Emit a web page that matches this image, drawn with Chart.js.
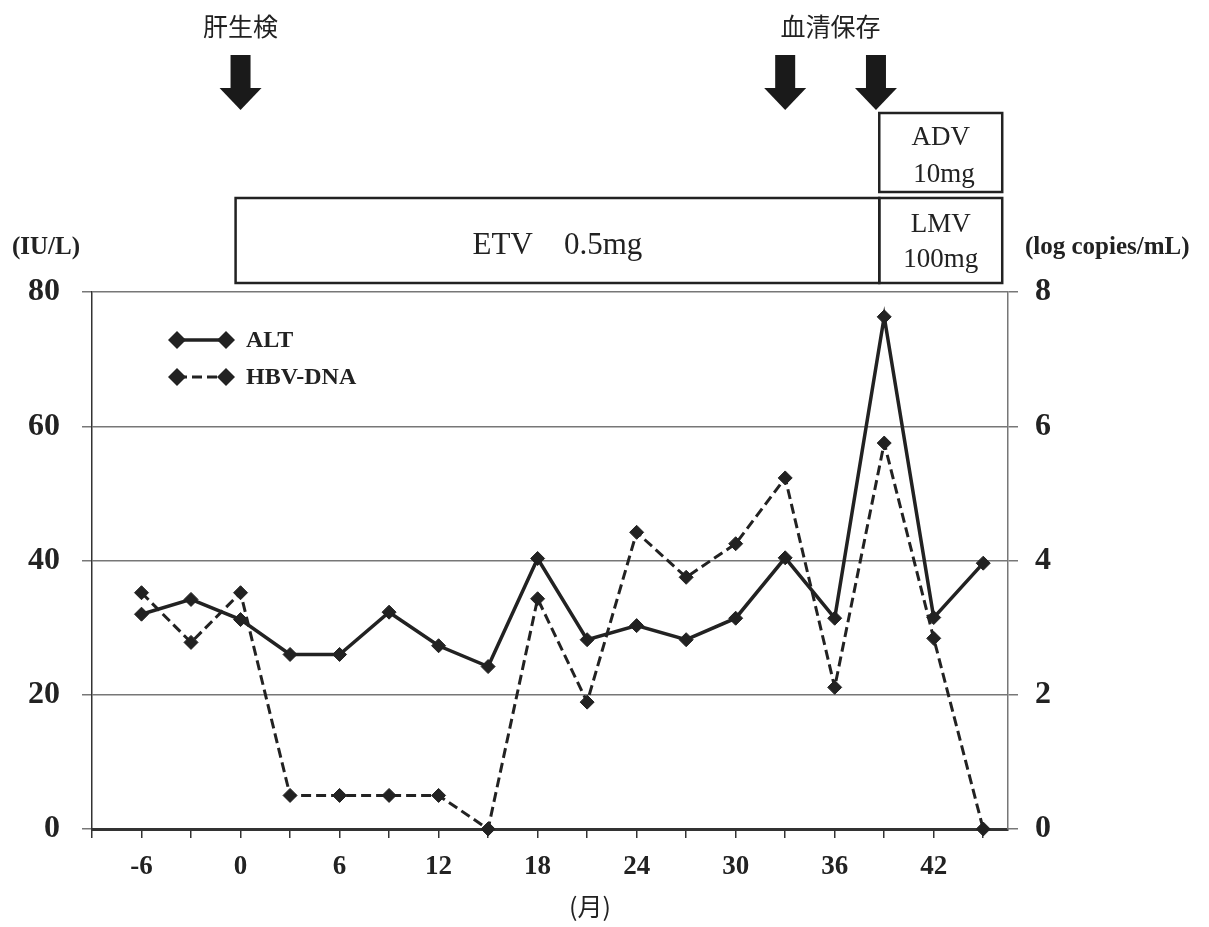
<!DOCTYPE html>
<html><head><meta charset="utf-8">
<script src="https://cdn.jsdelivr.net/npm/chart.js@4.4.0/dist/chart.umd.min.js"></script>
<style>html,body{margin:0;padding:0;background:#fff;}canvas{display:block}</style>
</head><body>
<canvas id="c" width="1209" height="927"></canvas>
<script>
// ---- data ----
const months = [-6,-3,0,3,6,9,12,15,18,21,24,27,30,33,36,39,42,45];
const altValues = [32,34.2,31.2,26,26,32.3,27.3,24.2,40.3,28.2,30.3,28.2,31.4,40.4,31.4,76.3,31.5,39.6];
const hbvDnaValues = [3.52,2.78,3.52,0.5,0.5,0.5,0.5,0,3.43,1.89,4.42,3.75,4.25,5.23,2.11,5.75,2.84,0];
const xTickValues = [-9,-6,-3,0,3,6,9,12,15,18,21,24,27,30,33,36,39,42,45];
const xLabelValues = [-6,0,6,12,18,24,30,36,42];
const leftTickValues = [0,20,40,60,80];
const rightTickValues = [0,2,4,6,8];
const seriesNames = ['ALT','HBV-DNA'];
const leftUnit = '(IU/L)';
const rightUnit = '(log copies/mL)';
const xUnit = '(月)';
const eventLabels = ['肝生検','血清保存'];
const eventLabelMonths = [0,35.75];
const eventArrowMonths = [0,33,38.5];
const regimenLabels = [['ETV    0.5mg'],['LMV','100mg'],['ADV',' 10mg']];
const regimenStart = [-0.3,38.7,38.7];
const regimenEnd = [38.7,46.15,46.15];
const regimenRow = [0,0,1];

const INK = '#222';
const SERIF = '"Liberation Serif", "Times New Roman", serif';
const CJK = '"Noto Sans CJK JP", sans-serif';

function diamond(ctx, x, y, r) {
  ctx.beginPath();
  ctx.moveTo(x - r, y); ctx.lineTo(x, y - r); ctx.lineTo(x + r, y); ctx.lineTo(x, y + r);
  ctx.closePath(); ctx.fill();
}

const overlay = {
  id: 'overlay',
  afterDraw(chart) {
    const ctx = chart.ctx;
    const xs = chart.scales.x;
    ctx.save();
    // legend
    const legY = [340, 377];
    chart.data.datasets.forEach((ds, i) => {
      const y = legY[i];
      ctx.strokeStyle = ds.borderColor; ctx.lineWidth = ds.borderWidth;
      ctx.setLineDash(ds.borderDash || []);
      ctx.beginPath(); ctx.moveTo(177, y); ctx.lineTo(226, y); ctx.stroke();
      ctx.setLineDash([]);
      ctx.fillStyle = INK;
      diamond(ctx, 177, y, 9); diamond(ctx, 226, y, 9);
      ctx.font = 'bold 24px ' + SERIF; ctx.textAlign = 'left'; ctx.textBaseline = 'middle';
      ctx.fillText(ds.label, 246, y + 1);
    });
    // unit labels
    ctx.font = 'bold 25px ' + SERIF; ctx.textBaseline = 'middle';
    ctx.textAlign = 'left'; ctx.fillText(leftUnit, 12, 248);
    ctx.textAlign = 'left'; ctx.fillText(rightUnit, 1025, 248);
    // x unit
    ctx.font = '25px ' + CJK; ctx.textAlign = 'center';
    ctx.fillText(xUnit, 590, 906);
    // event labels
    ctx.font = '25px ' + CJK; ctx.fillStyle = INK;
    eventLabels.forEach((t, i) => ctx.fillText(t, xs.getPixelForValue(eventLabelMonths[i]), 26));
    // arrows
    ctx.fillStyle = '#1a1a1a';
    eventArrowMonths.forEach(m => {
      const cx = xs.getPixelForValue(m);
      ctx.fillRect(cx - 10, 55, 20, 34);
      ctx.beginPath(); ctx.moveTo(cx - 21, 88); ctx.lineTo(cx + 21, 88); ctx.lineTo(cx, 110); ctx.closePath(); ctx.fill();
    });
    // regimen boxes
    const rows = [{top: 198, bottom: 283}, {top: 113, bottom: 192}];
    ctx.strokeStyle = INK; ctx.lineWidth = 2.5; ctx.fillStyle = INK;
    regimenLabels.forEach((lines, i) => {
      const x0 = xs.getPixelForValue(regimenStart[i]);
      const x1 = xs.getPixelForValue(regimenEnd[i]);
      const r = rows[regimenRow[i]];
      ctx.strokeRect(x0, r.top, x1 - x0, r.bottom - r.top);
      ctx.textAlign = 'center'; ctx.textBaseline = 'alphabetic';
      const cx = (x0 + x1) / 2;
      if (lines.length === 1) {
        ctx.font = '31px ' + SERIF;
        ctx.fillText(lines[0], cx, 254);
      } else {
        ctx.font = '27px ' + SERIF;
        const bl = regimenRow[i] === 1 ? [145, 182] : [232, 267];
        ctx.fillText(lines[0], cx, bl[0]);
        ctx.fillText(lines[1], cx, bl[1]);
      }
    });
    ctx.restore();
  }
};

const tickFont = {family: SERIF, size: 32, weight: 'bold'};

new Chart(document.getElementById('c'), {
  type: 'line',
  data: {
    datasets: [
      {
        label: seriesNames[0], yAxisID: 'y',
        data: months.map((m, i) => ({x: m, y: altValues[i]})),
        borderColor: INK, borderWidth: 3.5, backgroundColor: INK,
        pointStyle: 'rectRot', pointRadius: 7, pointBorderColor: INK, pointBackgroundColor: INK,
        pointBorderWidth: 1, tension: 0, clip: false
      },
      {
        label: seriesNames[1], yAxisID: 'y1',
        data: months.map((m, i) => ({x: m, y: hbvDnaValues[i]})),
        borderColor: INK, borderWidth: 3, borderDash: [10, 5], backgroundColor: INK,
        pointStyle: 'rectRot', pointRadius: 7, pointBorderColor: INK, pointBackgroundColor: INK,
        pointBorderWidth: 1, tension: 0, clip: false
      }
    ]
  },
  options: {
    responsive: false, animation: false, devicePixelRatio: 1,
    layout: {padding: {top: 292, left: 0, right: 0, bottom: 0}},
    plugins: {legend: {display: false}, tooltip: {enabled: false}},
    scales: {
      x: {
        type: 'linear', min: -9, max: 46.5, position: 'bottom',
        afterBuildTicks: s => { s.ticks = xTickValues.map(v => ({value: v})); },
        afterFit: s => { s.height = 98; },
        ticks: {
          autoSkip: false, maxRotation: 0, padding: 13, color: INK,
          font: {family: SERIF, size: 27, weight: 'bold'},
          callback: v => xLabelValues.includes(v) ? String(v) : ''
        },
        grid: {drawOnChartArea: false, drawTicks: true, tickLength: 9, color: '#333', lineWidth: 1.5},
        border: {display: true, color: '#333', width: 3}
      },
      y: {
        type: 'linear', position: 'left', min: 0, max: 80,
        afterBuildTicks: s => { s.ticks = leftTickValues.map(v => ({value: v})); },
        afterFit: s => { s.width = 92; },
        ticks: {padding: 22, color: INK, font: tickFont},
        grid: {color: '#777', lineWidth: 1.5, tickLength: 10},
        border: {display: true, color: '#333', width: 1.5}
      },
      y1: {
        type: 'linear', position: 'right', min: 0, max: 8,
        afterBuildTicks: s => { s.ticks = rightTickValues.map(v => ({value: v})); },
        afterFit: s => { s.width = 201; },
        ticks: {padding: 17, color: INK, font: tickFont},
        grid: {drawOnChartArea: false, color: '#777', lineWidth: 1.5, tickLength: 10},
        border: {display: true, color: '#777', width: 1.5}
      }
    }
  },
  plugins: [overlay]
});
</script>
</body></html>
